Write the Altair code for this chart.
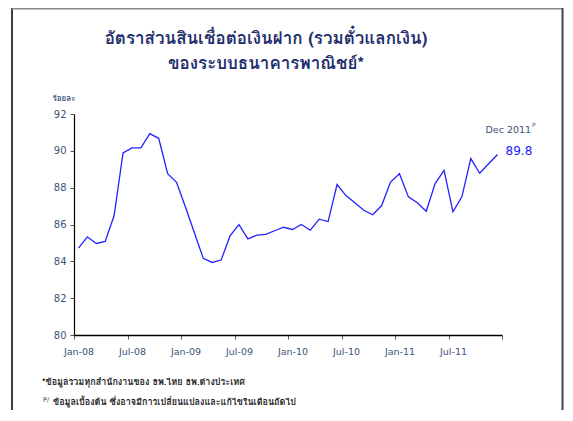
import altair as alt
import pandas as pd

# ---- data ----
years = ["08", "09", "10", "11"]
month_names = ["Jan", "Feb", "Mar", "Apr", "May", "Jun", "Jul", "Aug", "Sep", "Oct", "Nov", "Dec"]
months = [f"{m}-{y}" for y in years for m in month_names]

ratio_2008 = [84.72, 85.33, 84.97, 85.08, 86.49, 89.89, 90.16, 90.16, 90.93, 90.68, 88.76, 88.29]
ratio_2009 = [86.95, 85.55, 84.16, 83.94, 84.07, 85.38, 85.99, 85.22, 85.42, 85.46, 85.66, 85.85]
ratio_2010 = [85.73, 86.00, 85.69, 86.29, 86.16, 88.17, 87.57, 87.18, 86.77, 86.53, 87.03, 88.30]
ratio_2011 = [88.76, 87.50, 87.18, 86.72, 88.22, 88.94, 86.69, 87.50, 89.58, 88.78, 89.30, 89.80]
values = ratio_2008 + ratio_2009 + ratio_2010 + ratio_2011

tick_labels = ["Jan-08", "Jul-08", "Jan-09", "Jul-09", "Jan-10", "Jul-10", "Jan-11", "Jul-11", ""]
y_ticks = [80, 82, 84, 86, 88, 90, 92]

title_line_1 = "อัตราส่วนสินเชื่อต่อเงินฝาก (รวมตั๋วแลกเงิน)"
title_line_2 = "ของระบบธนาคารพาณิชย์*"
y_unit = "ร้อยละ"
last_label = "Dec 2011"
last_value_text = "89.8"
footnote_1 = "*ข้อมูลรวมทุกสำนักงานของ ธพ.ไทย ธพ.ต่างประเทศ"
footnote_2 = "ข้อมูลเบื้องต้น ซึ่งอาจมีการเปลี่ยนแปลงและแก้ไขในเดือนถัดไป"

df = pd.DataFrame({"idx": list(range(len(values))), "month": months, "value": values})
last = df.tail(1)

W, H = 428, 221
NAVY = "#1f2f6e"
SLATE = "#3c5378"
BLUE = "#2222ff"
FONT = "Tahoma, Loma, Garuda, 'Noto Sans Thai', 'DejaVu Sans', sans-serif"

label_expr = "[" + ",".join(f"'{t}'" for t in tick_labels) + "][round((datum.value + 0.5) / 6)]"

x_scale = alt.Scale(domain=[-0.5, 47.5], nice=False, zero=False)
y_scale = alt.Scale(domain=[80, 92], nice=False, zero=False)

x_axis = alt.Axis(values=[-0.5 + 6 * i for i in range(9)], labelExpr=label_expr,
                  labelOffset=4.5, labelFlush=False, labelOverlap=False,
                  grid=False, domainColor="black", domainWidth=1.5,
                  tickColor="#555", tickSize=4, labelPadding=7,
                  labelColor=SLATE, labelFont="DejaVu Sans", labelFontSize=9.5,
                  title=None)
y_axis = alt.Axis(values=y_ticks, tickCount=7, grid=False, domainColor="black", domainWidth=1.2,
                  labelOverlap=False, labelFlush=False,
                  tickColor="#555", tickSize=4, labelPadding=4,
                  labelColor=SLATE, labelFont="DejaVu Sans", labelFontSize=10,
                  title=y_unit, titleAngle=0, titleX=-22, titleY=-16,
                  titleAlign="left", titleBaseline="middle",
                  titleFont=FONT, titleFontSize=8, titleFontWeight="bold",
                  titleColor=SLATE)

ax = alt.X("idx:Q", scale=x_scale, axis=x_axis)
ay = alt.Y("value:Q", scale=y_scale, axis=y_axis)

line = alt.Chart(df).mark_line(color=BLUE, strokeWidth=1.3).encode(x=ax, y=ay)

ann_label = alt.Chart(last).mark_text(align="left", baseline="middle", dx=-12, dy=-25,
                                      font="DejaVu Sans", fontSize=9.5, color=SLATE).encode(
    x=ax, y=ay, text=alt.value(last_label))
ann_sup = alt.Chart(last).mark_text(align="left", baseline="middle", dx=34.5, dy=-30,
                                    font="DejaVu Sans", fontSize=6, color=SLATE).encode(
    x=ax, y=ay, text=alt.value("P"))
ann_value = alt.Chart(last).mark_text(align="left", baseline="middle", dx=8, dy=-4,
                                      font="DejaVu Sans", fontSize=12, color=BLUE).encode(
    x=ax, y=ay, text=alt.value(last_value_text))

one = alt.Data(values=[{"k": 1}])
title1 = alt.Chart(one).mark_text(align="center", baseline="alphabetic", font=FONT, fontSize=17,
                                  fontWeight="bold", color=NAVY).encode(
    x=alt.value(192), y=alt.value(-70), text=alt.value(title_line_1))
title2 = alt.Chart(one).mark_text(align="center", baseline="alphabetic", font=FONT, fontSize=17,
                                  fontWeight="bold", color=NAVY).encode(
    x=alt.value(192), y=alt.value(-45), text=alt.value(title_line_2))
foot1 = alt.Chart(one).mark_text(align="left", baseline="middle", font=FONT, fontSize=9,
                                 fontWeight="bold", color="#222").encode(
    x=alt.value(-32), y=alt.value(47 + H), text=alt.value(footnote_1))
foot2p = alt.Chart(one).mark_text(align="left", baseline="middle", font="DejaVu Sans", fontSize=6.5,
                                  color="#333").encode(
    x=alt.value(-31), y=alt.value(65 + H), text=alt.value("P/"))
foot2 = alt.Chart(one).mark_text(align="left", baseline="middle", font=FONT, fontSize=9,
                                 fontWeight="bold", color="#222").encode(
    x=alt.value(-21), y=alt.value(67 + H), text=alt.value(footnote_2))

frame_left = alt.Chart(one).mark_rule(color="black", strokeWidth=1.5).encode(
    x=alt.value(-62), y=alt.value(-106), y2=alt.value(H + 120))
frame_top = alt.Chart(one).mark_rule(color="#8a8a8a", strokeWidth=2).encode(
    x=alt.value(-62), x2=alt.value(489), y=alt.value(-105.5))
frame_right = alt.Chart(one).mark_rule(color="#444", strokeWidth=2).encode(
    x=alt.value(488.5), y=alt.value(-106), y2=alt.value(H + 120))

chart = alt.layer(
    frame_left, frame_top, frame_right, line, ann_label, ann_sup, ann_value,
    title1, title2, foot1, foot2p, foot2
).properties(
    width=W, height=H,
    autosize=alt.AutoSizeParams(type="none"),
    padding={"left": 66, "top": 106, "right": 62, "bottom": 75},
).configure(background="white").configure_view(strokeWidth=0)

chart.save("out.html", embed_options={"renderer": "svg", "actions": False})
